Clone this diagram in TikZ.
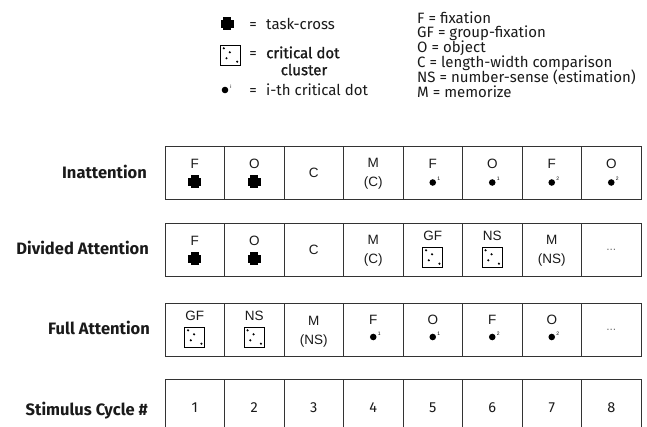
\documentclass[tikz,border=0pt]{standalone}
\usepackage{fontspec}
\setmainfont{Fira Sans}
\newfontfamily\cellfont{Liberation Sans}
\newfontfamily\medfont[FakeBold=1.2]{Fira Sans}
\usetikzlibrary{calc}
\definecolor{ink}{HTML}{1A1A1A}
\definecolor{frame}{HTML}{333333}
\tikzset{
  cell/.style={draw=frame, line width=0.9pt, minimum width=59.5pt, minimum height=53pt, inner sep=0pt, outer sep=0pt},
  rowlbl/.style={font=\fontsize{16.5}{18}\selectfont\bfseries, text=ink, anchor=base east, inner sep=0pt},
  ltr/.style={font=\cellfont\fontsize{13.5}{15}\selectfont, text=ink, anchor=base, inner sep=0pt},
  num/.style={font=\fontsize{14.5}{16}\selectfont, text=ink, anchor=base, inner sep=0pt},
  leg/.style={font=\fontsize{15}{16}\selectfont, text=ink, anchor=base west, inner sep=0pt},
  legm/.style={font=\medfont\fontsize{15}{16}\selectfont, text=ink, anchor=base west, inner sep=0pt},
  eqs/.style={font=\fontsize{15}{16}\selectfont, text=ink, anchor=base, inner sep=0pt},
  dots/.style={font=\cellfont\fontsize{12}{14}\selectfont, text=black!55, anchor=base, inner sep=0pt},
  tcross/.pic={\fill[black] (-6.5,-4) rectangle (6.5,4); \fill[black] (-4,-6.5) rectangle (4,6.5);},
  cdot/.pic={\fill[black] (0,0) circle (3.3); \node[font=\cellfont\fontsize{5}{5}\selectfont, inner sep=0pt] at (6,-3.5) {#1};},
  cluster/.pic={\draw[black, line width=0.8pt] (-10,-10) rectangle (10,10);
    \fill[black] (-6.7,-6.7) circle (1.2); \fill[black] (-0.7,-2.7) circle (1.2);
    \fill[black] (-4,3.3) circle (1.2); \fill[black] (6.7,6.7) circle (1.2);}
}
\begin{document}
\begin{tikzpicture}[x=1pt,y=-1pt]
\path[use as bounding box, clip] (0,0) rectangle (647,427);
\fill[white] (0,0) rectangle (647,427);

% ---- legend left
\pic at (227,24) {tcross};
\node[eqs] (eq1) at (253,29.2) {=};
\node[leg] (lg1) at (266,29.2) {task-cross};
\pic at (230.5,55) {cluster};
\node[eqs] (eq2) at (253,58.2) {=};
\node[legm] (lg2) at (266,58.2) {critical dot};
\node[legm, anchor=base] (lg2b) at (304,75.2) {cluster};
\pic at (225,90) {cdot=i};
\node[eqs] (eq3) at (253,95.2) {=};
\node[leg] (lg3) at (266,95.2) {i-th critical dot};

% ---- legend right
\foreach \t [count=\k] in {F = fixation, GF = group-fixation, O = object, C = length-width comparison, NS = number-sense (estimation), M = memorize}
  \node[leg] (rl\k) at (417,{18+14.8*(\k-1)+5.2}) {\t};

% ---- row labels
\node[rowlbl] (lab1) at (147,178.5) {Inattention};
\node[rowlbl] (lab2) at (149,255) {Divided Attention};
\node[rowlbl] (lab3) at (150,334) {Full Attention};
\node[rowlbl] (lab4) at (148,415) {Stimulus Cycle \#};

% ---- cells
\foreach \r/\ty in {1/146,2/223,3/303}
  \foreach \i in {1,...,8}
    \node[cell] (c\r-\i) at ({165+(\i-0.5)*59.5},{\ty+26.5}) {};
\foreach \i in {1,...,8}
  \node[cell, minimum height=62pt] (c4-\i) at ({165+(\i-0.5)*59.5},410) {};

% ---- row 1
\node[ltr] (t1-1) at ($(c1-1.north)+(0,23)$) {F};  \pic at ($(c1-1.north)+(0,36)$) {tcross};
\node[ltr] (t1-2) at ($(c1-2.north)+(0,23)$) {O};  \pic at ($(c1-2.north)+(0,36)$) {tcross};
\node[ltr] (t1-3) at ($(c1-3.center)+(0,4.8)$) {C};
\node[ltr] (t1-4) at ($(c1-4.north)+(0,22)$) {M};
\node[ltr] (u1-4) at ($(c1-4.north)+(0,41)$) {(C)};
\node[ltr] (t1-5) at ($(c1-5.north)+(0,23)$) {F};  \pic at ($(c1-5.north)+(0,36.5)$) {cdot=1};
\node[ltr] (t1-6) at ($(c1-6.north)+(0,23)$) {O};  \pic at ($(c1-6.north)+(0,36.5)$) {cdot=1};
\node[ltr] (t1-7) at ($(c1-7.north)+(0,23)$) {F};  \pic at ($(c1-7.north)+(0,36.5)$) {cdot=2};
\node[ltr] (t1-8) at ($(c1-8.north)+(0,23)$) {O};  \pic at ($(c1-8.north)+(0,36.5)$) {cdot=2};

% ---- row 2
\node[ltr] (t2-1) at ($(c2-1.north)+(0,23)$) {F};  \pic at ($(c2-1.north)+(0,36)$) {tcross};
\node[ltr] (t2-2) at ($(c2-2.north)+(0,23)$) {O};  \pic at ($(c2-2.north)+(0,36)$) {tcross};
\node[ltr] (t2-3) at ($(c2-3.center)+(0,4.8)$) {C};
\node[ltr] (t2-4) at ($(c2-4.north)+(0,22)$) {M};
\node[ltr] (u2-4) at ($(c2-4.north)+(0,41)$) {(C)};
\node[ltr] (t2-5) at ($(c2-5.north)+(0,17.5)$) {GF}; \pic at ($(c2-5.north)+(0,34)$) {cluster};
\node[ltr] (t2-6) at ($(c2-6.north)+(0,17.5)$) {NS}; \pic at ($(c2-6.north)+(0,34)$) {cluster};
\node[ltr] (t2-7) at ($(c2-7.north)+(0,22)$) {M};
\node[ltr] (u2-7) at ($(c2-7.north)+(0,41)$) {(NS)};
\node[dots] (d2-8) at ($(c2-8.center)+(0,1)$) {...};

% ---- row 3
\node[ltr] (t3-1) at ($(c3-1.north)+(0,17.5)$) {GF}; \pic at ($(c3-1.north)+(0,34)$) {cluster};
\node[ltr] (t3-2) at ($(c3-2.north)+(0,17.5)$) {NS}; \pic at ($(c3-2.north)+(0,34)$) {cluster};
\node[ltr] (t3-3) at ($(c3-3.north)+(0,22)$) {M};
\node[ltr] (u3-3) at ($(c3-3.north)+(0,41)$) {(NS)};
\node[ltr] (t3-4) at ($(c3-4.north)+(0,21)$) {F};  \pic at ($(c3-4.north)+(0,34)$) {cdot=1};
\node[ltr] (t3-5) at ($(c3-5.north)+(0,21)$) {O};  \pic at ($(c3-5.north)+(0,34)$) {cdot=1};
\node[ltr] (t3-6) at ($(c3-6.north)+(0,21)$) {F};  \pic at ($(c3-6.north)+(0,34)$) {cdot=2};
\node[ltr] (t3-7) at ($(c3-7.north)+(0,21)$) {O};  \pic at ($(c3-7.north)+(0,34)$) {cdot=2};
\node[dots] (d3-8) at ($(c3-8.center)+(0,1)$) {...};

% ---- row 4
\foreach \i in {1,...,8}
  \node[num] (n\i) at ($(c4-\i.north)+(0,33)$) {\i};
\end{tikzpicture}
\end{document}
